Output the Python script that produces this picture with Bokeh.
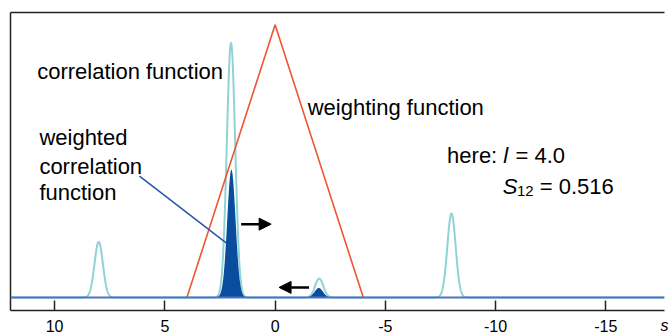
import numpy as np
from bokeh.plotting import figure
from bokeh.models import Range1d, LinearAxis, FixedTicker, Arrow, NormalHead, Span, Label
from bokeh.embed import file_html
from bokeh.resources import INLINE

# ---- data ----
peak_centers = [8.0, 2.0, -2.0, -8.0]
peak_heights = [0.204, 0.934, 0.069, 0.308]
peak_sigma = 0.19
half_width_l = 4.0          # "here: l = 4.0"
s12_text = "0.516"
x_ticks = [10, 5, 0, -5, -10, -15]
x_tick_labels = ["10", "5", "0", "-5", "-10", "-15"]

# ---- curves ----
xs = np.linspace(12.5, -18.5, 3101)
corr = np.zeros_like(xs)
for c, h in zip(peak_centers, peak_heights):
    corr += h * np.exp(-0.5 * ((xs - c) / peak_sigma) ** 2)
weight = np.clip(1.0 - np.abs(xs) / half_width_l, 0.0, None)
weighted = corr * weight
tri_x = [half_width_l, 0.0, -half_width_l]
tri_y = [float(np.clip(1.0 - abs(v) / half_width_l, 0, None)) for v in tri_x]

FONT = "Liberation Sans"

p = figure(width=668, height=336, x_range=Range1d(12.0, -17.66), y_range=Range1d(-0.0478, 1.0453),
           output_backend="svg", toolbar_location=None, y_axis_location=None)
p.grid.visible = False
p.outline_line_color = None
p.min_border_left = 10
p.min_border_top = 12
p.min_border_right = 4
p.min_border_bottom = 0
p.background_fill_color = "white"
p.border_fill_color = "white"

ax = p.xaxis[0]
ax.ticker = FixedTicker(ticks=x_ticks)
ax.major_label_overrides = {t: s for t, s in zip(x_ticks, x_tick_labels)}
ax.major_tick_in = 10
ax.major_tick_out = 0
ax.minor_tick_line_color = None
ax.axis_line_width = 1.5
ax.axis_line_color = "#222222"
ax.major_tick_line_color = "#222222"
ax.major_tick_line_width = 1.5
ax.major_label_text_font = FONT
ax.major_label_text_font_size = "16px"
ax.major_label_text_color = "black"
ax.major_label_standoff = 9
ax.axis_label = "s"
ax.axis_label_text_font = FONT
ax.axis_label_text_font_size = "16px"
ax.axis_label_text_font_style = "italic"
ax.axis_label_text_color = "black"
ax.axis_label_align = "start"
ax.axis_label_standoff = -18

for loc in ("left", "above"):
    a = LinearAxis(ticker=FixedTicker(ticks=[]), major_tick_out=0, major_tick_in=0,
                   minor_tick_out=0, minor_tick_in=0, major_label_text_font_size="0px",
                   major_label_standoff=0, axis_line_width=1.5, axis_line_color="#222222")
    p.add_layout(a, loc)

# curves
p.line(xs, corr, line_color="#8fd3d5", line_width=2)
p.varea(x=xs, y1=np.zeros_like(xs), y2=weighted, fill_color="#0a4d9e")
p.line(tri_x, tri_y, line_color="#ee5530", line_width=1.6)
p.add_layout(Span(location=0, dimension="width", line_color="#4f72c2", line_width=2))

# pointer line
p.line([6.15, 2.22], [0.445, 0.20], line_color="#2457a8", line_width=1.5)

# arrows
p.add_layout(Arrow(end=NormalHead(size=12, fill_color="black", line_color="black"),
                   x_start=1.54, y_start=0.269, x_end=0.18, y_end=0.269,
                   line_width=2.5, line_color="black"))
p.add_layout(Arrow(end=NormalHead(size=12, fill_color="black", line_color="black"),
                   x_start=-1.54, y_start=0.037, x_end=-0.18, y_end=0.037,
                   line_width=2.5, line_color="black"))

def txt(x, y, s, size="22px", style="normal"):
    p.add_layout(Label(x=x, y=y, text=s, text_font=FONT, text_font_size=size,
                       text_font_style=style, text_color="black",
                       text_align="left", text_baseline="alphabetic"))

txt(10.79, 0.829, "correlation function")
txt(-1.48, 0.697, "weighting function")
txt(10.69, 0.586, "weighted")
txt(10.69, 0.482, "correlation")
txt(10.69, 0.384, "function")
txt(-7.80, 0.519, "here:")
txt(-10.35, 0.519, "l", style="italic")
txt(-10.90, 0.519, "= " + str(half_width_l))
txt(-10.32, 0.4085, "S", style="italic")
txt(-10.97, 0.39, "12", size="15px")
txt(-12.0, 0.4085, "= " + s12_text)

open("out.html", "w").write(file_html(p, INLINE))
